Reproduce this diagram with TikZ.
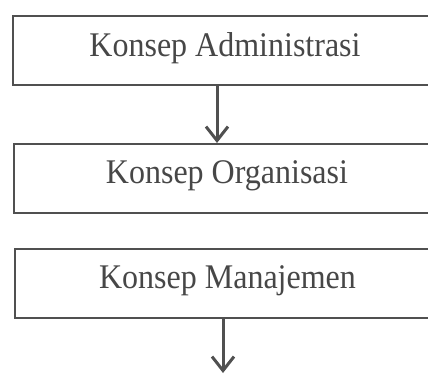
\documentclass[tikz,border=0pt]{standalone}
\usepackage{fontspec}
\setmainfont{Liberation Serif}
\usetikzlibrary{arrows.meta}
\definecolor{ln}{HTML}{505050}
\definecolor{tx}{HTML}{474747}
\tikzset{
  boxnode/.style={draw=ln, line width=2pt, rectangle, minimum width=440pt, minimum height=69pt, anchor=north west, inner sep=0pt},
  txt/.style={text=tx, font=\fontsize{32}{36}\selectfont, anchor=base, inner sep=0pt},
  arr/.style={draw=ln, line width=3pt, -{Straight Barb[length=14pt,width=22pt,line width=3pt]}}
}
\begin{document}
\begin{tikzpicture}[x=1pt,y=1pt]
\useasboundingbox (0,0) rectangle (428,-374);
\clip (0,0) rectangle (428,-374);
\fill[white] (0,0) rectangle (428,-374);
\node[boxnode] (b1) at (12,-15) {};
\node[boxnode] (b2) at (13,-143) {};
\node[boxnode] (b3) at (14,-248) {};
\node[txt] (t1) at (225,-56.7) {\scalebox{1}[1.08]{Konsep Administrasi}};
\node[txt] (t2) at (227,-183.5) {\scalebox{1}[1.08]{Konsep Organisasi}};
\node[txt] (t3) at (227.5,-288.5) {\scalebox{1}[1.08]{Konsep Manajemen}};
\coordinate (c1) at (217,0);
\coordinate (c2) at (223,0);
\coordinate (e2) at (223,-373);
\draw[arr] (b1.south -| c1) -- (b2.north -| c1);
\draw[arr] (b3.south -| c2) -- (e2);
\end{tikzpicture}
\end{document}
